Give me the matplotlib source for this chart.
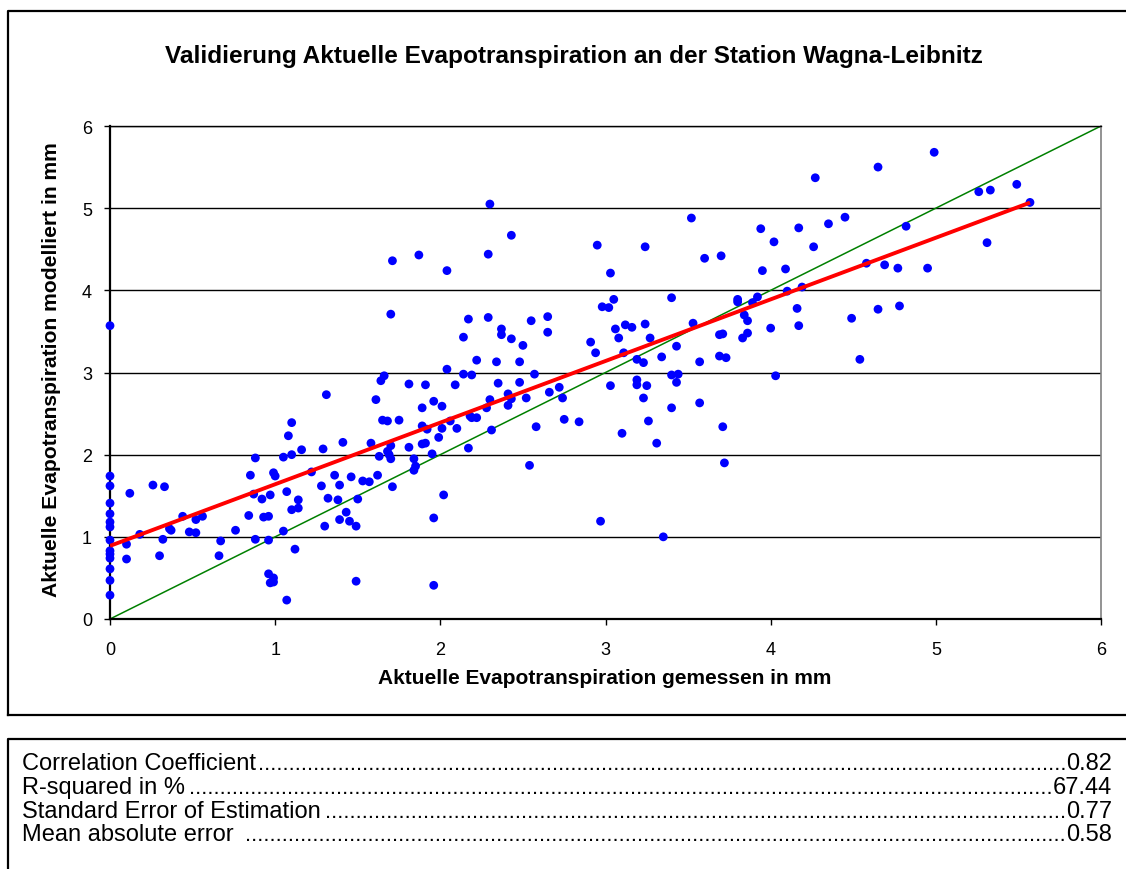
import matplotlib
matplotlib.use("Agg")
import matplotlib.pyplot as plt
from matplotlib.lines import Line2D

plt.rcParams['font.family'] = ['Liberation Sans', 'DejaVu Sans']

title = "Validierung Aktuelle Evapotranspiration an der Station Wagna-Leibnitz"
x_label = "Aktuelle Evapotranspiration gemessen in mm"
y_label = "Aktuelle Evapotranspiration modelliert in mm"

# measured (x) and modelled (y) daily values in mm
measured = [
    0, 0, 0, 0, 0, 0, 0, 0, 0, 0, 0, 0, 0, 0,
    0.12, 0.10, 0.10, 0.18, 0.26, 0.33, 0.30, 0.32, 0.44, 0.36, 0.37, 0.48, 0.52, 0.56, 0.52,
    0.67, 0.66, 0.76, 0.84, 0.85, 0.88, 0.87, 0.92, 0.97, 0.99, 1.00, 0.88, 0.96, 0.93, 0.96,
    1.05, 1.12, 0.96, 0.99, 0.97, 0.99, 1.07, 1.07, 1.10, 1.14, 1.14, 1.05, 1.10, 1.08, 1.10,
    1.16, 1.22, 1.29, 1.31, 1.41, 1.28, 1.32, 1.39, 1.36, 1.46, 1.38, 1.30, 1.39, 1.43, 1.45,
    1.49, 1.50, 1.49,
    1.64, 1.66, 1.61, 1.81, 1.91, 2.04, 2.14, 2.19, 2.09, 2.35, 2.48, 2.57, 1.65, 1.68, 1.75,
    1.58, 1.63, 1.68, 1.70, 1.69, 1.70, 1.62, 1.53, 1.57, 1.71, 1.89, 1.96, 2.01, 1.89, 1.92,
    1.81, 1.89, 1.91, 1.99, 2.01, 2.06, 2.10, 1.95, 1.84, 1.85, 1.84, 2.17, 2.18, 2.19, 2.22,
    2.28, 2.30, 2.41, 2.41, 2.43, 2.31, 2.52, 2.66, 2.72, 2.74, 2.58, 2.75, 2.84, 2.54, 2.02,
    1.96, 1.96, 2.97, 3.03,
    2.30, 2.43, 1.71, 1.87, 2.04, 2.29, 2.95, 3.03, 1.70, 2.17, 2.29, 2.37, 2.37, 2.14, 2.43,
    2.55, 2.65, 2.65, 2.50, 2.22, 2.34, 2.48, 2.91, 2.94, 2.98, 3.02,
    4.27, 3.52, 3.24, 3.60, 3.70, 3.94, 4.17, 4.35, 4.45, 4.02, 4.26, 3.95, 4.09, 3.05, 3.40,
    3.80, 3.80, 3.89, 3.92, 4.10, 4.19, 3.84, 3.86, 4.16, 4.49, 3.06, 3.12, 3.16, 3.24, 3.08,
    3.27, 3.53, 3.69, 3.71, 3.83, 3.86, 4.00, 4.17, 3.11, 3.43, 3.34, 3.19, 3.23, 3.57, 3.69,
    3.73, 4.54,
    3.19, 3.19, 3.25, 3.40, 3.44, 3.43, 3.23, 3.40, 3.57, 3.26, 3.10, 3.31, 3.71, 3.72, 4.03,
    3.35,
    4.99, 4.65, 5.26, 5.33, 5.49, 5.57, 4.82, 5.31, 4.58, 4.69, 4.77, 4.95, 4.65, 4.78,
]
modelled = [
    3.57, 1.74, 1.62, 1.41, 1.28, 1.18, 1.12, 0.96, 0.83, 0.79, 0.74, 0.61, 0.47, 0.29,
    1.53, 0.91, 0.73, 1.03, 1.63, 1.61, 0.77, 0.97, 1.25, 1.10, 1.08, 1.06, 1.21, 1.25, 1.05,
    0.95, 0.77, 1.08, 1.26, 1.75, 1.96, 1.52, 1.46, 1.51, 1.78, 1.74, 0.97, 0.96, 1.24, 1.25,
    1.07, 0.85, 0.55, 0.50, 0.44, 0.45, 0.23, 1.55, 1.33, 1.45, 1.35, 1.97, 2.00, 2.23, 2.39,
    2.06, 1.79, 2.07, 2.73, 2.15, 1.62, 1.47, 1.63, 1.75, 1.73, 1.45, 1.13, 1.21, 1.30, 1.19,
    1.13, 1.46, 0.46,
    2.90, 2.96, 2.67, 2.86, 2.85, 3.04, 2.98, 2.97, 2.85, 2.87, 2.88, 2.98, 2.42, 2.41, 2.42,
    2.14, 1.98, 2.04, 2.11, 2.00, 1.95, 1.75, 1.68, 1.67, 1.61, 2.57, 2.65, 2.59, 2.35, 2.31,
    2.09, 2.13, 2.14, 2.21, 2.32, 2.41, 2.32, 2.01, 1.95, 1.86, 1.81, 2.08, 2.47, 2.45, 2.45,
    2.57, 2.67, 2.74, 2.60, 2.68, 2.30, 2.69, 2.76, 2.82, 2.69, 2.34, 2.43, 2.40, 1.87, 1.51,
    1.23, 0.41, 1.19, 2.84,
    5.05, 4.67, 4.36, 4.43, 4.24, 4.44, 4.55, 4.21, 3.71, 3.65, 3.67, 3.53, 3.46, 3.43, 3.41,
    3.63, 3.68, 3.49, 3.33, 3.15, 3.13, 3.13, 3.37, 3.24, 3.80, 3.79,
    5.37, 4.88, 4.53, 4.39, 4.42, 4.75, 4.76, 4.81, 4.89, 4.59, 4.53, 4.24, 4.26, 3.89, 3.91,
    3.89, 3.86, 3.85, 3.92, 3.99, 4.04, 3.70, 3.63, 3.78, 3.66, 3.53, 3.58, 3.55, 3.59, 3.42,
    3.42, 3.60, 3.46, 3.47, 3.42, 3.48, 3.54, 3.57, 3.24, 3.32, 3.19, 3.16, 3.12, 3.13, 3.20,
    3.18, 3.16,
    2.91, 2.85, 2.84, 2.97, 2.98, 2.88, 2.69, 2.57, 2.63, 2.41, 2.26, 2.14, 2.34, 1.90, 2.96,
    1.00,
    5.68, 5.50, 5.20, 5.22, 5.29, 5.07, 4.78, 4.58, 4.33, 4.31, 4.27, 4.27, 3.77, 3.81,
]

# linear regression of modelled on measured
trend_intercept = 0.89
trend_slope = 0.75

axis_ticks = [0, 1, 2, 3, 4, 5, 6]

stats_labels = ["Correlation Coefficient", "R-squared in %",
                "Standard Error of Estimation", "Mean absolute error "]
stats_values = ["0.82", "67.44", "0.77", "0.58"]

W, H = 1126, 870
fig = plt.figure(figsize=(W / 100, H / 100), dpi=100)

# chart frame and statistics frame
fig.add_artist(Line2D([8 / W, 8 / W, 1.01], [1 - 716 / H, 1 - 12 / H, 1 - 12 / H],
                      color="black", lw=1.6, transform=fig.transFigure))
fig.add_artist(Line2D([8 / W, 1.01], [1 - 716 / H, 1 - 716 / H],
                      color="black", lw=1.6, transform=fig.transFigure))
fig.add_artist(Line2D([8 / W, 8 / W, 1.01], [-0.01, 1 - 740 / H, 1 - 740 / H],
                      color="black", lw=1.6, transform=fig.transFigure))

ax = fig.add_axes([110 / W, 1 - 620 / H, (1101 - 110) / W, (620 - 127) / H])
ax.set_xlim(0, 6)
ax.set_ylim(0, 6)
ax.set_xticks(axis_ticks)
ax.set_yticks(axis_ticks)
ax.tick_params(axis="both", labelsize=13, length=4, width=1, direction="out", color="black")
ax.tick_params(axis="x", pad=12)
ax.tick_params(axis="y", pad=9)
ax.yaxis.grid(True, color="black", lw=1)
ax.set_axisbelow(True)
for side in ("left", "bottom"):
    ax.spines[side].set_linewidth(1.6)
    ax.spines[side].set_color("black")
ax.spines["right"].set_color("#808080")
ax.spines["right"].set_linewidth(1.2)
ax.spines["top"].set_color("black")
ax.spines["top"].set_linewidth(1)

ax.plot([0, 6], [0, 6], color="#008000", lw=1.1, zorder=2)
ax.scatter(measured, modelled, s=40, color="#0000FF", edgecolors="none", zorder=3, clip_on=False)
x_end = max(measured)
ax.plot([0, x_end], [trend_intercept, trend_intercept + trend_slope * x_end],
        color="#FF0000", lw=2.8, zorder=4, solid_capstyle="butt")

fig.text(574 / W, 1 - 56 / H, title, ha="center", va="center", fontsize=17.6, fontweight="bold")
fig.text(605 / W, 1 - 679 / H, x_label, ha="center", va="center", fontsize=15, fontweight="bold")
fig.text(52 / W, 1 - 370 / H, y_label, ha="center", va="center", rotation=90,
         fontsize=15.2, fontweight="bold")

# statistics table with dotted leaders
fig.canvas.draw()
renderer = fig.canvas.get_renderer()
left_px, right_px = 22, 1112
row_y = [770, 794, 818, 841]
text_size = 17
dot_size = 16
dot_probe = fig.text(0, 0, "." * 50, fontsize=dot_size)
dot_w = dot_probe.get_window_extent(renderer).width / 50
dot_probe.remove()
for label, value, yy in zip(stats_labels, stats_values, row_y):
    t1 = fig.text(left_px / W, 1 - yy / H, label, ha="left", va="baseline", fontsize=text_size)
    t2 = fig.text(right_px / W, 1 - yy / H, value, ha="right", va="baseline", fontsize=text_size)
    w1 = t1.get_window_extent(renderer).width
    w2 = t2.get_window_extent(renderer).width
    gap = (right_px - left_px) - w1 - w2
    n = int(gap // dot_w)
    fig.text((right_px - w2) / W, 1 - yy / H, "." * n, ha="right", va="baseline",
             fontsize=dot_size)

fig.savefig("out.png", dpi=100)
